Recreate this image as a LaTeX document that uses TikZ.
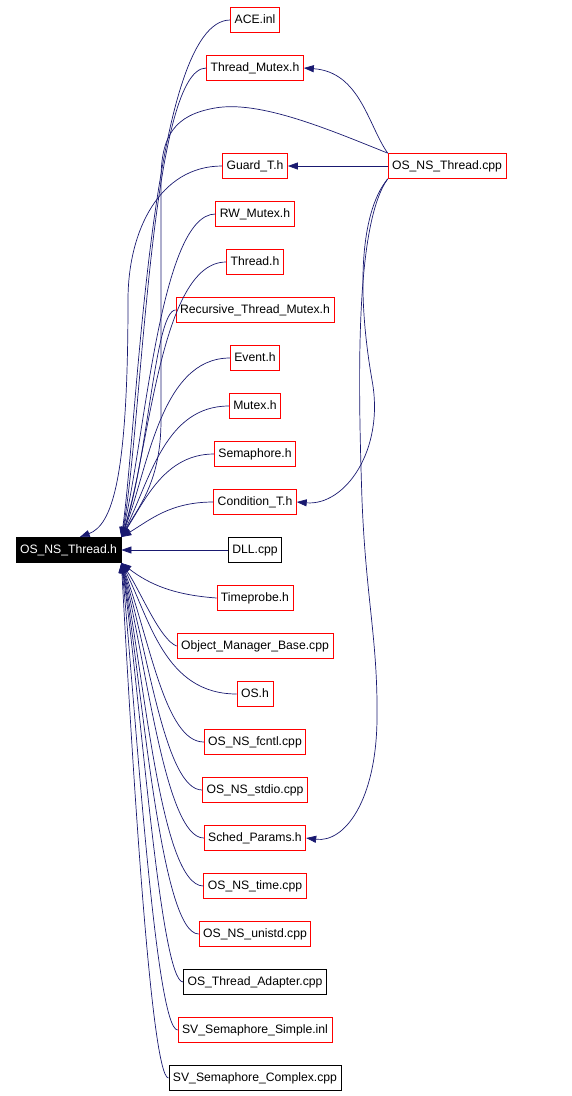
\documentclass[tikz,border=0pt]{standalone}
\usepackage{fontspec}
\setmainfont{Liberation Sans}
\usetikzlibrary{arrows.meta}
\definecolor{edgeblue}{HTML}{191970}
\begin{document}
\begin{tikzpicture}[x=1pt, y=-1pt, >={Triangle[length=10pt,width=7pt]},
  every node/.style={font=\fontsize{12.2}{14}\selectfont, inner xsep=4pt, inner ysep=0pt,
    minimum height=25pt, text height=9pt, text depth=3pt, line width=0.8pt},
  file/.style={draw=red},
  plainfile/.style={draw=black},
  current/.style={draw=black, fill=black, text=white},
  dep/.style={->, draw=edgeblue, line width=0.7pt}]
  \useasboundingbox (0,0) rectangle (571,1096);
  \node[current] (main) at (68.5,550) {OS\_NS\_Thread.h};
  \node[file] (cpp) at (447,166) {OS\_NS\_Thread.cpp};
  \node[file] (ace) at (255,20) {ACE.inl};
  \node[file] (tmutex) at (255,68) {Thread\_Mutex.h};
  \node[file] (guard) at (255,166) {Guard\_T.h};
  \node[file] (rwmutex) at (255,214) {RW\_Mutex.h};
  \node[file] (thread) at (255,262) {Thread.h};
  \node[file] (recmutex) at (255,310) {Recursive\_Thread\_Mutex.h};
  \node[file] (event) at (255,358) {Event.h};
  \node[file] (mutex) at (255,406) {Mutex.h};
  \node[file] (sema) at (255,454) {Semaphore.h};
  \node[file] (cond) at (255,502) {Condition\_T.h};
  \node[plainfile] (dll) at (255,550) {DLL.cpp};
  \node[file] (tprobe) at (255,598) {Timeprobe.h};
  \node[file] (omb) at (255,646) {Object\_Manager\_Base.cpp};
  \node[file] (os) at (255,694) {OS.h};
  \node[file] (fcntl) at (255,742) {OS\_NS\_fcntl.cpp};
  \node[file] (stdio) at (255,790) {OS\_NS\_stdio.cpp};
  \node[file] (sched) at (255,838) {Sched\_Params.h};
  \node[file] (time) at (255,886) {OS\_NS\_time.cpp};
  \node[file] (unistd) at (255,934) {OS\_NS\_unistd.cpp};
  \node[plainfile] (adapter) at (255,982) {OS\_Thread\_Adapter.cpp};
  \node[file] (ssimple) at (255,1030) {SV\_Semaphore\_Simple.inl};
  \node[plainfile] (scomplex) at (255,1078) {SV\_Semaphore\_Complex.cpp};
  % includes of OS_NS_Thread.cpp
  \draw[dep] (cpp.north west) .. controls (368,125) and (360,72) .. (tmutex.east);
  \draw[dep] (cpp.west) -- (guard.east);
  \draw[dep] (cpp.north west) .. controls (330,130) and (260,100) .. (215,108)
    .. controls (175,115) and (161,135) .. (161,180) -- (161,420)
    .. controls (161,480) and (140,505) .. (main.north east);
  \draw[dep] (cpp.south west) .. controls (358,215) and (358,300) .. (372,380)
    .. controls (385,450) and (345,506) .. (cond.east);
  \draw[dep] (cpp.south west) .. controls (355,225) and (358,380) .. (362,500)
    .. controls (366,600) and (378,640) .. (377,720)
    .. controls (376,800) and (345,843) .. (sched.east);
  % files above
  \draw[dep] (ace.west) .. controls (150,20) and (138,420) .. (main.north east);
  \draw[dep] (tmutex.west) .. controls (150,68) and (142,430) .. (main.north east);
  \draw[dep] (guard.west) .. controls (160,166) and (128,230) .. (128,300)
    .. controls (128,480) and (112,525) .. (main.49);
  \draw[dep] (rwmutex.west) .. controls (160,214) and (145,440) .. (main.north east);
  \draw[dep] (thread.west) .. controls (160,262) and (150,450) .. (main.north east);
  \draw[dep] (recmutex.west) .. controls (155,310) and (148,460) .. (main.north east);
  \draw[dep] (event.west) .. controls (160,358) and (148,470) .. (main.north east);
  \draw[dep] (mutex.west) .. controls (165,406) and (150,480) .. (main.north east);
  \draw[dep] (sema.west) .. controls (165,454) and (145,500) .. (main.north east);
  \draw[dep] (cond.west) .. controls (170,502) and (150,520) .. (main.north east);
  \draw[dep] (dll.west) -- (main.east);
  % files below
  \draw[dep] (tprobe.west) .. controls (175,595) and (150,585) .. (main.south east);
  \draw[dep] (omb.west) .. controls (160,640) and (140,590) .. (main.south east);
  \draw[dep] (os.west) .. controls (165,694) and (150,620) .. (main.south east);
  \draw[dep] (fcntl.west) .. controls (165,742) and (150,640) .. (main.south east);
  \draw[dep] (stdio.west) .. controls (165,790) and (148,650) .. (main.south east);
  \draw[dep] (sched.west) .. controls (165,838) and (146,660) .. (main.south east);
  \draw[dep] (time.west) .. controls (160,886) and (144,670) .. (main.south east);
  \draw[dep] (unistd.west) .. controls (160,934) and (142,680) .. (main.south east);
  \draw[dep] (adapter.west) .. controls (160,982) and (140,690) .. (main.south east);
  \draw[dep] (ssimple.west) .. controls (155,1030) and (135,700) .. (main.south east);
  \draw[dep] (scomplex.west) .. controls (150,1078) and (130,720) .. (main.south east);
\end{tikzpicture}
\end{document}
